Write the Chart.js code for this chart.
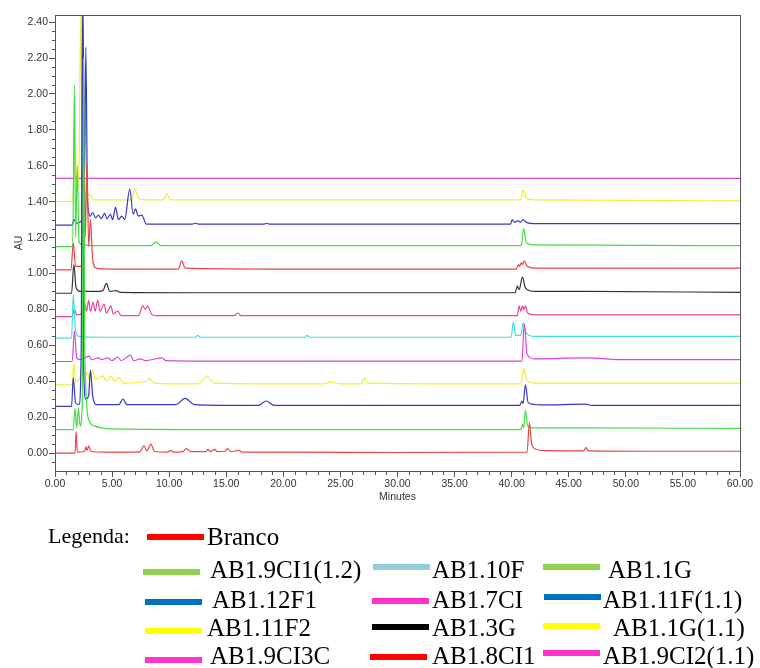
<!DOCTYPE html>
<html>
<head>
<meta charset="utf-8">
<script src="https://cdn.jsdelivr.net/npm/chart.js@4/dist/chart.umd.min.js"></script>
<style>
  body { margin: 0; background: #fff; }
  #wrap { position: relative; width: 760px; height: 668px; }
  #legend { position: absolute; left: 0; top: 0; width: 760px; height: 668px; pointer-events: none;
            font-family: "Liberation Serif", "Times New Roman", serif; color: #000; }
  #legend span { position: absolute; white-space: nowrap; line-height: 1; }
  #legend i { position: absolute; height: 6px; width: 57px; }
</style>
</head>
<body>
<div id="wrap">
  <canvas id="chrom" width="760" height="510"></canvas>
  <div id="legend"></div>
</div>
<script>
// retention time (min), absorbance (AU)
const branco = [[0,0],[1.75,0],[1.85,0.12],[1.95,0.005],[2.6,0.01],[2.7,0.035],[2.8,0.015],[2.95,0.04],[3.15,0.01],[4.5,0.005],[7.4,0.005],[7.8,0.04],[8.05,0.012],[8.4,0.05],[8.7,0.01],[9.9,0.005],[10.1,0.015],[10.4,0.005],[11.2,0.008],[11.5,0.025],[11.9,0.008],[13.2,0.008],[13.4,0.02],[13.6,0.008],[14.0,0.02],[14.2,0.008],[14.9,0.01],[15.1,0.025],[15.4,0.008],[16.1,0.015],[16.4,0.005],[21,0.005],[30,0.003],[41.35,0.005],[41.55,0.17],[41.75,0.05],[42.2,0.02],[43,0.013],[46.3,0.012],[46.5,0.03],[46.7,0.012],[52,0.01],[60,0.01]];
const ab19ci1_12 = [[0,0.13],[1.6,0.13],[1.75,0.25],[1.9,0.14],[2.05,0.25],[2.2,0.15],[2.4,0.3],[2.5,2.2],[2.6,0.7],[2.75,0.3],[3.0,0.18],[3.5,0.15],[5,0.135],[20,0.13],[40.8,0.13],[40.95,0.16],[41.05,0.14],[41.2,0.24],[41.4,0.15],[42,0.14],[46.5,0.14],[60,0.137]];
const ab112f1 = [[0,0.26],[1.45,0.26],[1.6,0.42],[1.8,0.28],[2.1,0.27],[2.3,0.6],[2.4,2.5],[2.5,0.5],[2.7,0.3],[2.95,0.32],[3.1,0.46],[3.3,0.32],[3.6,0.27],[5.6,0.27],[5.95,0.3],[6.3,0.27],[10.6,0.27],[11.4,0.305],[12.2,0.27],[17.8,0.265],[18.5,0.29],[19.2,0.265],[40.7,0.265],[40.9,0.29],[41.0,0.275],[41.2,0.38],[41.45,0.28],[42.5,0.268],[46.5,0.272],[47,0.266],[60,0.266]];
const ab111f2 = [[0,0.38],[1.5,0.38],[1.65,0.5],[1.8,0.4],[2.2,0.42],[2.4,0.5],[2.6,0.42],[2.85,0.45],[3.0,0.41],[3.3,0.46],[3.5,0.41],[4.2,0.43],[4.5,0.4],[4.9,0.43],[5.2,0.4],[5.6,0.42],[6,0.39],[8.0,0.4],[8.3,0.415],[8.7,0.39],[12.5,0.385],[13.3,0.425],[14.0,0.39],[23.5,0.385],[24.1,0.395],[25,0.385],[26.8,0.385],[27.1,0.42],[27.4,0.39],[40.8,0.385],[41.05,0.47],[41.3,0.41],[42,0.39],[60,0.39]];
const ab19ci3c = [[0,0.51],[1.5,0.51],[1.7,0.68],[1.9,0.53],[2.2,0.52],[3.0,0.54],[3.2,0.52],[3.8,0.53],[4.1,0.52],[4.6,0.53],[5.0,0.515],[5.5,0.535],[5.8,0.515],[6.6,0.545],[6.9,0.515],[7.5,0.525],[7.9,0.515],[9.4,0.53],[9.7,0.515],[15,0.512],[40.9,0.512],[41.1,0.72],[41.35,0.55],[42,0.525],[46.5,0.53],[50,0.52],[60,0.52]];
const ab110f = [[0,0.64],[1.45,0.64],[1.6,0.88],[1.8,0.68],[2.1,0.65],[4,0.645],[12.3,0.645],[12.5,0.655],[12.7,0.645],[21.9,0.645],[22.1,0.655],[22.3,0.645],[39.95,0.645],[40.15,0.73],[40.35,0.655],[40.8,0.655],[41.0,0.725],[41.25,0.67],[42,0.65],[60,0.65]];
const ab17ci = [[0,0.76],[1.5,0.76],[1.7,0.8],[1.9,0.77],[2.4,0.78],[2.6,0.84],[2.75,0.79],[2.95,0.85],[3.1,0.79],[3.35,0.84],[3.5,0.79],[3.75,0.85],[3.95,0.79],[4.3,0.83],[4.5,0.78],[4.9,0.82],[5.1,0.775],[5.5,0.79],[5.8,0.765],[7.3,0.765],[7.7,0.82],[7.9,0.8],[8.1,0.82],[8.5,0.77],[9,0.765],[15.7,0.765],[16.0,0.78],[16.3,0.765],[40.5,0.765],[40.65,0.82],[40.8,0.79],[40.95,0.82],[41.05,0.8],[41.2,0.82],[41.4,0.78],[42,0.77],[60,0.77]];
const ab13g = [[0,0.89],[1.45,0.89],[1.65,1.05],[1.85,0.92],[2.2,0.9],[3.5,0.9],[4.2,0.905],[4.5,0.945],[4.8,0.9],[5.4,0.905],[5.7,0.895],[12,0.893],[40.3,0.893],[40.5,0.93],[40.65,0.91],[40.95,0.98],[41.2,0.92],[42,0.9],[46.5,0.9],[60,0.895]];
const ab18ci1 = [[0,1.02],[1.4,1.02],[1.6,1.17],[1.8,1.04],[2.3,1.04],[2.55,1.6],[2.65,1.2],[2.8,1.62],[2.95,1.15],[3.1,1.3],[3.3,1.08],[3.6,1.03],[5,1.025],[10.8,1.025],[11.1,1.07],[11.4,1.03],[20,1.025],[40.4,1.025],[40.6,1.05],[40.7,1.04],[40.85,1.06],[40.95,1.05],[41.1,1.07],[41.35,1.04],[42,1.03],[60,1.03]];
const ab11g = [[0,1.15],[1.55,1.15],[1.7,2.05],[1.8,1.2],[1.95,1.6],[2.1,1.18],[2.4,1.16],[4,1.155],[8.4,1.155],[8.8,1.175],[9.3,1.155],[14,1.155],[40.85,1.155],[41.05,1.25],[41.3,1.17],[42,1.16],[60,1.155]];
const ab111f_11 = [[0,1.27],[1.5,1.27],[1.65,1.3],[1.9,1.28],[2.35,1.3],[2.45,2.5],[2.58,1.5],[2.7,2.26],[2.85,1.4],[3.1,1.32],[3.3,1.34],[3.55,1.31],[3.8,1.325],[4.05,1.305],[4.35,1.335],[4.55,1.305],[4.85,1.33],[5.05,1.3],[5.3,1.37],[5.55,1.3],[5.85,1.32],[6.1,1.3],[6.55,1.47],[6.85,1.33],[7.05,1.36],[7.3,1.32],[7.6,1.325],[8.0,1.275],[12,1.275],[12.3,1.28],[12.6,1.275],[18.3,1.275],[18.5,1.28],[18.8,1.275],[39.9,1.275],[40.05,1.3],[40.25,1.285],[40.55,1.295],[40.75,1.285],[41.0,1.3],[41.3,1.285],[42,1.278],[60,1.278]];
const ab11g_11 = [[0,1.4],[1.55,1.4],[1.75,1.72],[1.9,1.45],[2.1,1.6],[2.25,2.44],[2.4,1.5],[2.7,1.43],[3.1,1.44],[3.4,1.41],[6.7,1.41],[7.0,1.47],[7.3,1.42],[7.8,1.41],[9.5,1.41],[9.8,1.445],[10.1,1.41],[20,1.41],[40.8,1.41],[41.0,1.47],[41.25,1.42],[42,1.41],[60,1.405]];
const ab19ci2_11 = [[0,1.53],[60,1.53]];

const seriesNames = ['Branco','AB1.9CI1(1.2)','AB1.12F1','AB1.11F2','AB1.9CI3C','AB1.10F','AB1.7CI','AB1.3G','AB1.8CI1','AB1.1G','AB1.11F(1.1)','AB1.1G(1.1)','AB1.9CI2(1.1)'];
const seriesData = [branco, ab19ci1_12, ab112f1, ab111f2, ab19ci3c, ab110f, ab17ci, ab13g, ab18ci1, ab11g, ab111f_11, ab11g_11, ab19ci2_11];
const lineColors = ['#ee4444','#44dd44','#3838c8','#f2ee30','#dd44dd','#44dddd','#e8449c','#333333','#ee4444','#44dd44','#3838c8','#f2ee30','#cc44cc'];

const xTickValues = [0,5,10,15,20,25,30,35,40,45,50,55,60];
const yTickValues = [0,0.2,0.4,0.6,0.8,1.0,1.2,1.4,1.6,1.8,2.0,2.2,2.4];

// legend swatch colours (as in the figure key)
const legendColors = {
  'Branco':'#ff0000','AB1.9CI1(1.2)':'#92d050','AB1.10F':'#92cddc','AB1.1G':'#92d050',
  'AB1.12F1':'#0070c0','AB1.7CI':'#ff33cc','AB1.11F(1.1)':'#0070c0','AB1.11F2':'#ffff00',
  'AB1.3G':'#000000','AB1.1G(1.1)':'#ffff00','AB1.9CI3C':'#ff33cc','AB1.8CI1':'#ff0000','AB1.9CI2(1.1)':'#ff33cc'
};

const datasets = seriesData.map((pts, i) => ({
  label: seriesNames[i],
  data: pts.map(p => ({ x: p[0], y: p[1] })),
  borderColor: lineColors[i],
  borderWidth: 1.2,
  pointRadius: 0,
  fill: false,
  cubicInterpolationMode: 'monotone'
}));

// frame around the plot + minor tick marks
const framePlugin = {
  id: 'frame',
  afterDraw(chart) {
    const { ctx, chartArea: a, scales: { x, y } } = chart;
    ctx.save();
    ctx.strokeStyle = '#555';
    ctx.lineWidth = 1;
    ctx.strokeRect(a.left + 0.5, a.top + 0.5, a.right - a.left, a.bottom - a.top);
    ctx.beginPath();
    for (let m = 1; m < 60; m++) {
      if (m % 5 === 0) continue;
      const px = Math.round(x.getPixelForValue(m)) + 0.5;
      ctx.moveTo(px, a.bottom); ctx.lineTo(px, a.bottom + 4);
    }
    for (let k = -2; k <= 48; k++) {
      if (k % 4 === 0) continue;
      const py = Math.round(y.getPixelForValue(k * 0.05)) + 0.5;
      if (py < a.top || py > a.bottom) continue;
      ctx.moveTo(a.left, py); ctx.lineTo(a.left - 3, py);
    }
    ctx.stroke();
    ctx.restore();
  }
};

const tickFont = { family: '"Liberation Sans", Arial, sans-serif', size: 10.5 };

new Chart(document.getElementById('chrom'), {
  type: 'line',
  data: { datasets },
  options: {
    responsive: false,
    animation: false,
    events: [],
    layout: { padding: { top: 15, right: 20, left: 0, bottom: 0 } },
    plugins: { legend: { display: false }, tooltip: { enabled: false } },
    scales: {
      x: {
        type: 'linear', min: 0, max: 60,
        afterBuildTicks: s => { s.ticks = xTickValues.map(v => ({ value: v })); },
        afterFit: s => { s.height = 39; },
        ticks: { font: tickFont, color: '#333', padding: 1, maxRotation: 0, autoSkip: false, callback: v => v.toFixed(2) },
        grid: { drawOnChartArea: false, tickLength: 6, color: '#555' },
        border: { color: '#555' },
        title: { display: true, text: 'Minutes', font: tickFont, color: '#333', padding: { top: 0, bottom: 7 } }
      },
      y: {
        type: 'linear', min: -0.1, max: 2.44,
        afterBuildTicks: s => { s.ticks = yTickValues.map(v => ({ value: v })); },
        afterFit: s => { s.width = 55; },
        ticks: { font: tickFont, color: '#333', padding: 1, autoSkip: false, callback: v => v.toFixed(2) },
        grid: { drawOnChartArea: false, tickLength: 6, color: '#555' },
        border: { color: '#555' },
        title: { display: true, text: 'AU', font: tickFont, color: '#333', padding: { top: 13, bottom: 0 } }
      }
    }
  },
  plugins: [framePlugin]
});

// legend key laid out as in the figure
const legendLayout = [
  { name: 'Branco',        sx: 147, sy: 534, tx: 207, ty: 524 },
  { name: 'AB1.9CI1(1.2)', sx: 143, sy: 569, tx: 210, ty: 557 },
  { name: 'AB1.10F',       sx: 373, sy: 564, tx: 432, ty: 557 },
  { name: 'AB1.1G',        sx: 543, sy: 564, tx: 608, ty: 557 },
  { name: 'AB1.12F1',      sx: 145, sy: 599, tx: 212, ty: 587 },
  { name: 'AB1.7CI',       sx: 372, sy: 598, tx: 432, ty: 587 },
  { name: 'AB1.11F(1.1)',  sx: 544, sy: 594, tx: 603, ty: 587 },
  { name: 'AB1.11F2',      sx: 145, sy: 628, tx: 207, ty: 615 },
  { name: 'AB1.3G',        sx: 372, sy: 624, tx: 432, ty: 615 },
  { name: 'AB1.1G(1.1)',   sx: 543, sy: 623, tx: 613, ty: 615 },
  { name: 'AB1.9CI3C',     sx: 145, sy: 657, tx: 210, ty: 643 },
  { name: 'AB1.8CI1',      sx: 370, sy: 654, tx: 432, ty: 643 },
  { name: 'AB1.9CI2(1.1)', sx: 543, sy: 650, tx: 603, ty: 643 }
];
const leg = document.getElementById('legend');
let html = '<span style="left:48px;top:525px;font-size:22px">Legenda:</span>';
legendLayout.forEach(e => {
  html += `<i style="left:${e.sx}px;top:${e.sy}px;background:${legendColors[e.name]}"></i>`;
  html += `<span style="left:${e.tx}px;top:${e.ty}px;font-size:25px">${e.name}</span>`;
});
leg.innerHTML = html;
</script>
</body>
</html>
